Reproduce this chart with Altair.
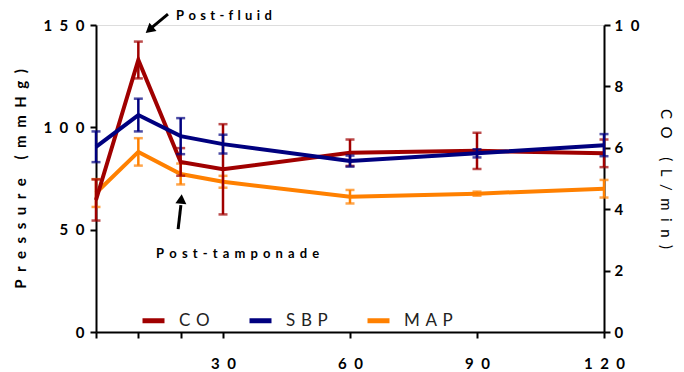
import altair as alt
import pandas as pd

# ---- data ----
minutes = [0, 10, 20, 30, 60, 90, 120]
co_mean = [4.3, 8.86, 5.54, 5.3, 5.84, 5.9, 5.82]
co_err = [0.67, 0.6, 0.45, 1.47, 0.43, 0.59, 0.45]
sbp_mean = [90.5, 106.0, 95.7, 91.8, 83.5, 87.3, 91.3]
sbp_err = [7.5, 8.0, 8.8, 4.6, 2.7, 2.0, 5.4]
map_mean = [67.9, 88.0, 77.2, 73.4, 66.1, 67.6, 70.0]
map_err = [6.8, 6.7, 5.1, 2.9, 3.3, 1.0, 4.3]

series_names = ["CO", "SBP", "MAP"]
series_colors = ["#a00000", "#00007f", "#ff8000"]

x_tick_values = [0, 10, 20, 30, 60, 90, 120]
x_tick_labels = ["", "", "", "30", "60", "90", "120"]
left_tick_values = [0, 50, 100, 150]
left_tick_labels = ["0", "50", "100", "150"]
right_tick_values = [0, 2, 4, 6, 8, 10]
right_tick_labels = ["0", "2", "4", "6", "8", "10"]

left_title = "Pressure (mmHg)"
right_title = "CO (L/min)"

ann_text = ["Post-fluid", "Post-tamponade"]
ann_x = [18.9, 14.2]
ann_y = [154.4, 38.1]
# arrow shafts (tail -> near head) and heads, in minutes / mmHg
arrow_x = [17.0, 19.4]
arrow_y = [155.3, 50.3]
arrow_x2 = [13.3, 20.05]
arrow_y2 = [149.0, 62.0]
head_x = [12.6, 20.15]
head_y = [147.6, 65.0]
head_angle = [230, 5]

EN = "\u2002"
THIRD = "\u2004"
ann_spacing = [THIRD, "\u2004\u200a"]


def spaced(s, sp=EN):
    return sp.join(list(s))


def label_expr(values, labels, sp=EN):
    expr = "''"
    for v, lab in zip(reversed(values), reversed(labels)):
        key = f"'{v}'" if isinstance(v, str) else f"{v}"
        expr = f"datum.value == {key} ? '{spaced(lab, sp)}' : ({expr})"
    return expr


FONT = "Lato"


def mkdf(mean, err, name):
    return pd.DataFrame({
        "t": minutes,
        "v": mean,
        "lo": [m - e for m, e in zip(mean, err)],
        "hi": [m + e for m, e in zip(mean, err)],
        "series": name,
    })


df_co = mkdf(co_mean, co_err, "CO")
df_sbp = mkdf(sbp_mean, sbp_err, "SBP")
df_map = mkdf(map_mean, map_err, "MAP")

legend = alt.Legend(
    orient="none", legendX=44, legendY=282, direction="horizontal",
    symbolType="stroke", symbolStrokeWidth=5, symbolSize=484, symbolOpacity=1,
    labelFont=FONT, labelFontSize=17, labelColor="#222222",
    labelOffset=12, columnPadding=29, padding=0, title=None,
    labelExpr=label_expr(series_names, series_names, THIRD),
)
color = alt.Color("series:N", scale=alt.Scale(domain=series_names, range=series_colors), legend=legend)

x_axis = alt.Axis(
    values=x_tick_values, labelExpr=label_expr(x_tick_values, x_tick_labels),
    title=None, grid=False, domainColor="black", domainWidth=2, tickColor="black",
    tickWidth=2, tickSize=6, labelFont=FONT, labelFontWeight="bold", labelFontSize=15,
    labelColor="black", labelPadding=18, labelFlush=False,
)
x_enc = alt.X("t:Q", scale=alt.Scale(domain=[0, 120], nice=False, zero=False), axis=x_axis)

left_axis = alt.Axis(
    values=left_tick_values, labelExpr=label_expr(left_tick_values, left_tick_labels),
    title=spaced(left_title), titleFont=FONT, titleFontWeight="bold", titleFontSize=15,
    titleColor="black", titlePadding=14, grid=False, domainColor="black", domainWidth=2,
    tickColor="black", tickWidth=2, tickSize=6, labelFont=FONT, labelFontWeight="bold",
    labelFontSize=15, labelColor="black", labelPadding=6, orient="left",
)
right_axis = alt.Axis(
    values=right_tick_values, labelExpr=label_expr(right_tick_values, right_tick_labels),
    title=spaced(right_title), titleFont=FONT, titleFontWeight="normal", titleFontSize=15,
    titleColor="black", titlePadding=19, grid=False, domainColor="black", domainWidth=2,
    tickColor="black", tickWidth=2, tickSize=6, labelFont=FONT, labelFontWeight="bold",
    labelFontSize=15, labelColor="black", labelPadding=4, orient="right",
)

p_scale = alt.Scale(domain=[0, 150], nice=False)
c_scale = alt.Scale(domain=[0, 10], nice=False)


def series_group(df, scale, axis):
    base = alt.Chart(df)
    err = base.mark_errorbar(ticks=True, size=9, thickness=2.5).encode(
        x=x_enc, y=alt.Y("lo:Q", scale=scale, axis=axis), y2="hi:Q", color=color)
    line = base.mark_line(strokeWidth=4).encode(
        x=x_enc, y=alt.Y("v:Q", scale=scale, axis=axis), color=color)
    return [err, line]


ann_df = pd.DataFrame({"t": ann_x, "y": ann_y,
                       "text": [spaced(s, sp) for s, sp in zip(ann_text, ann_spacing)]})
arrow_df = pd.DataFrame({"t": arrow_x, "y": arrow_y, "t2": arrow_x2, "y2": arrow_y2})
head_df = pd.DataFrame({"t": head_x, "y": head_y, "angle": head_angle})

texts = alt.Chart(ann_df).mark_text(
    font=FONT, fontWeight="bold", fontSize=13, align="left", baseline="middle", color="black"
).encode(x=x_enc, y=alt.Y("y:Q", scale=p_scale, axis=left_axis), text="text:N")
shafts = alt.Chart(arrow_df).mark_rule(strokeWidth=3, color="black").encode(
    x=x_enc, y=alt.Y("y:Q", scale=p_scale, axis=left_axis), x2="t2:Q", y2="y2:Q")
heads = alt.Chart(head_df).mark_point(
    shape="triangle-up", filled=True, size=120, color="black", opacity=1
).encode(x=x_enc, y=alt.Y("y:Q", scale=p_scale, axis=left_axis), angle=alt.Angle("angle:Q", scale=None))

left_group = alt.layer(*series_group(df_map, p_scale, left_axis), texts, shafts, heads)
co_group = alt.layer(*series_group(df_co, c_scale, right_axis))
sbp_group = alt.layer(*series_group(df_sbp, p_scale, None))

chart = alt.layer(left_group, co_group, sbp_group).resolve_scale(y="independent").properties(
    width=508, height=307,
    autosize=alt.AutoSizeParams(type="none"),
    padding={"left": 88, "top": 17, "right": 72, "bottom": 40},
).configure_view(stroke=None).configure(background="white")

chart.save("out.html", embed_options={"renderer": "svg", "actions": False})
